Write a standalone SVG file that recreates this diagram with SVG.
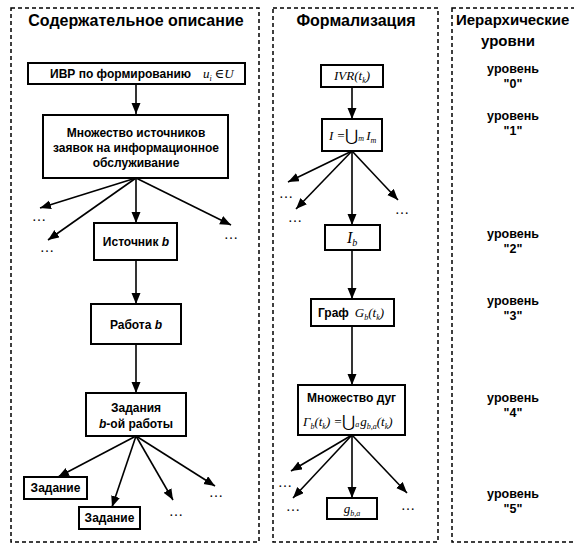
<svg xmlns="http://www.w3.org/2000/svg" width="574" height="546" viewBox="0 0 574 546">
<defs>
<marker id="ah" markerUnits="userSpaceOnUse" markerWidth="12" markerHeight="10" refX="11" refY="4.5" orient="auto">
<path d="M0,0 L11,4.5 L0,9 z" fill="#000"/>
</marker>
<style>
.panel{fill:none;stroke:#000;stroke-width:1.5;stroke-dasharray:4 3}
.box{fill:#fff;stroke:#000;stroke-width:2}
.b{font-family:"Liberation Sans",Arial,sans-serif;font-weight:bold;font-size:12px;fill:#000}
.t{font-family:"Liberation Sans",Arial,sans-serif;font-weight:bold;font-size:16px;fill:#000}
.lv{font-family:"Liberation Sans",Arial,sans-serif;font-weight:bold;font-size:12.5px;fill:#000}
.m{font-family:"Liberation Serif","Times New Roman",serif;font-style:italic;font-size:13px;fill:#000}
.u{font-family:"DejaVu Serif","Liberation Serif",serif;font-style:normal;font-weight:normal}
.dots{font-family:"Liberation Serif",serif;font-size:14px;fill:#000}
.c line{stroke:#000;stroke-width:1.6;marker-end:url(#ah)}
</style>
</defs>
<rect width="574" height="546" fill="#fff"/>
<g id="panels">
<rect class="panel" x="11" y="8" width="248" height="534"/>
<rect class="panel" x="273" y="8" width="165" height="534"/>
<rect class="panel" x="452" y="8" width="140" height="534"/>
<text class="t" x="136" y="26" text-anchor="middle">Содержательное описание</text>
<text class="t" x="356" y="26" text-anchor="middle">Формализация</text>
<text class="t" x="456" y="25" style="font-size:15px">Иерархические</text>
<text class="t" x="508" y="46" text-anchor="middle" style="font-size:15px">уровни</text>
</g>
<g id="levels" class="lv" text-anchor="middle">
<text x="513" y="73">уровень</text><text x="513" y="88">"0"</text>
<text x="513" y="120">уровень</text><text x="513" y="135">"1"</text>
<text x="513" y="238">уровень</text><text x="513" y="253">"2"</text>
<text x="513" y="305">уровень</text><text x="513" y="320">"3"</text>
<text x="513" y="402">уровень</text><text x="513" y="417">"4"</text>
<text x="513" y="498">уровень</text><text x="513" y="513">"5"</text>
</g>
<g class="c" id="connectors">
<line x1="136" y1="84" x2="136" y2="114"/>
<line x1="136" y1="178" x2="40" y2="208"/>
<line x1="136" y1="178" x2="48" y2="240"/>
<line x1="136" y1="178" x2="136" y2="223"/>
<line x1="136" y1="178" x2="231" y2="225"/>
<line x1="136" y1="260" x2="136" y2="304"/>
<line x1="136" y1="344" x2="136" y2="393"/>
<line x1="136" y1="436" x2="58" y2="477"/>
<line x1="136" y1="436" x2="112" y2="507"/>
<line x1="136" y1="436" x2="173" y2="500"/>
<line x1="136" y1="436" x2="215" y2="486"/>
<line x1="352" y1="87" x2="352" y2="119"/>
<line x1="352" y1="151" x2="288" y2="182"/>
<line x1="352" y1="151" x2="296" y2="209"/>
<line x1="352" y1="151" x2="352" y2="225"/>
<line x1="352" y1="151" x2="398" y2="200"/>
<line x1="352" y1="250" x2="352" y2="299"/>
<line x1="352" y1="326" x2="352" y2="385"/>
<line x1="352" y1="435" x2="291" y2="471"/>
<line x1="352" y1="435" x2="293" y2="498"/>
<line x1="352" y1="435" x2="352" y2="498"/>
<line x1="352" y1="435" x2="407" y2="493"/>
</g>
<g id="dots" class="dots" text-anchor="middle">
<text x="39" y="221">…</text>
<text x="47" y="252">…</text>
<text x="231" y="239">…</text>
<text x="176" y="516">…</text>
<text x="216" y="497">…</text>
<text x="286" y="198">…</text>
<text x="295" y="222">…</text>
<text x="402" y="214">…</text>
<text x="285" y="487">…</text>
<text x="293" y="511">…</text>
<text x="408" y="510">…</text>
</g>
<g id="n_ivr">
<rect class="box" x="28" y="63" width="217" height="21"/>
<text x="50" y="78"><tspan class="b">ИВР по формированию</tspan><tspan class="m" x="203">u</tspan><tspan class="m" dy="3" style="font-size:8px">i</tspan><tspan class="m u" dy="-3" dx="3">∈</tspan><tspan class="m">U</tspan></text>
</g>
<g id="n_sources">
<rect class="box" x="43" y="115" width="185" height="63"/>
<text class="b" text-anchor="middle"><tspan x="136" y="137">Множество источников</tspan><tspan x="136" y="152">заявок на информационное</tspan><tspan x="136" y="167">обслуживание</tspan></text>
</g>
<g id="n_source_b">
<rect class="box" x="94" y="223" width="83" height="37"/>
<text class="b" x="136" y="246" text-anchor="middle">Источник <tspan font-style="italic">b</tspan></text>
</g>
<g id="n_work_b">
<rect class="box" x="91" y="304" width="90" height="40"/>
<text class="b" x="136" y="329" text-anchor="middle">Работа <tspan font-style="italic">b</tspan></text>
</g>
<g id="n_tasks">
<rect class="box" x="86" y="393" width="100" height="43"/>
<text class="b" text-anchor="middle"><tspan x="136" y="412">Задания</tspan><tspan x="136" y="428"><tspan font-style="italic">b</tspan>-ой работы</tspan></text>
</g>
<g id="n_task1">
<rect class="box" x="24" y="477" width="63" height="22"/>
<text class="b" x="55.5" y="492" text-anchor="middle">Задание</text>
</g>
<g id="n_task2">
<rect class="box" x="79" y="507" width="61" height="22"/>
<text class="b" x="109.5" y="522" text-anchor="middle">Задание</text>
</g>
<g id="n_IVR">
<rect class="box" x="321" y="65" width="62" height="22"/>
<text class="m" x="352" y="80" text-anchor="middle">IVR(t<tspan dy="3" style="font-size:8px">k</tspan><tspan dy="-3">)</tspan></text>
</g>
<g id="n_I">
<rect class="box" x="322" y="119" width="60" height="32"/>
<text class="m" x="329" y="140">I =<tspan class="u" style="font-size:16px" dy="1">⋃</tspan><tspan dy="0" style="font-size:8px">m</tspan><tspan dy="-1" dx="2">I</tspan><tspan dy="3" style="font-size:8px">m</tspan></text>
</g>
<g id="n_Ib">
<rect class="box" x="325" y="225" width="55" height="25"/>
<text class="m" x="347" y="243" style="font-size:16px">I<tspan dy="3" style="font-size:10px">b</tspan></text>
</g>
<g id="n_graph">
<rect class="box" x="311" y="299" width="83" height="27"/>
<text x="318" y="317"><tspan class="b">Граф</tspan><tspan class="m" dx="6">G</tspan><tspan class="m" dy="3" style="font-size:8px">b</tspan><tspan class="m" dy="-3">(t</tspan><tspan class="m" dy="3" style="font-size:8px">k</tspan><tspan class="m" dy="-3">)</tspan></text>
</g>
<g id="n_arcs">
<rect class="box" x="298" y="385" width="107" height="50"/>
<text class="b" x="351.5" y="402" text-anchor="middle">Множество дуг</text>
<text class="m" x="303" y="426">Γ<tspan dy="3" style="font-size:8px">b</tspan><tspan dy="-3">(t</tspan><tspan dy="3" style="font-size:8px">k</tspan><tspan dy="-3">) =</tspan><tspan class="u" style="font-size:16px" dy="1">⋃</tspan><tspan style="font-size:8px">a</tspan><tspan dy="-1" dx="1">g</tspan><tspan dy="3" style="font-size:8px">b,a</tspan><tspan dy="-3">(t</tspan><tspan dy="3" style="font-size:8px">k</tspan><tspan dy="-3">)</tspan></text>
</g>
<g id="n_g">
<rect class="box" x="327" y="498" width="50" height="21"/>
<text class="m" x="352" y="513" text-anchor="middle">g<tspan dy="3" style="font-size:8px">b,a</tspan></text>
</g>
</svg>
